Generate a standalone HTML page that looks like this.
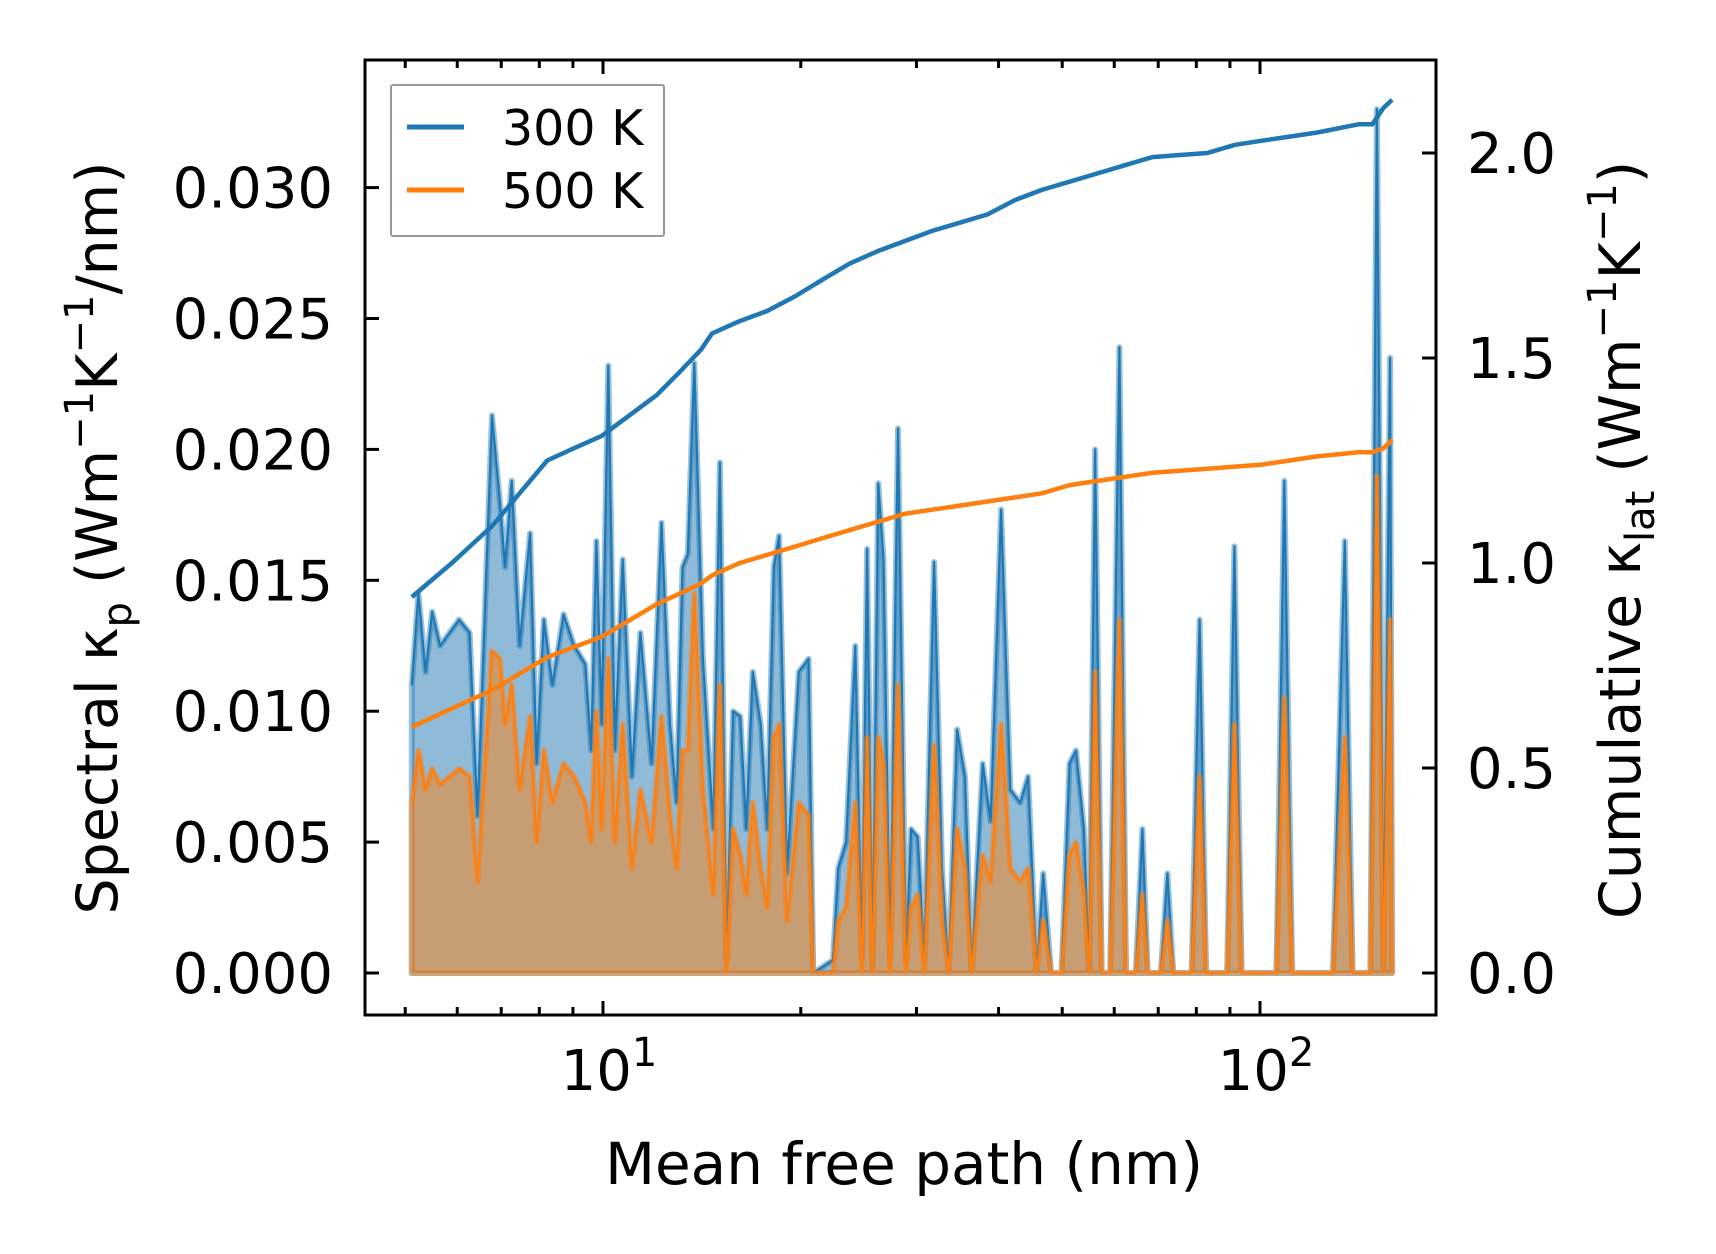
<!DOCTYPE html>
<html><head><meta charset="utf-8"><style>
html,body{margin:0;padding:0;background:#fff;}
svg{display:block;font-family:"DejaVu Sans","Liberation Sans",sans-serif;}
</style></head><body>
<svg id="chart" width="1716" height="1254" viewBox="0 0 1716 1254" xmlns="http://www.w3.org/2000/svg">
<g id="plot"></g>
</svg>
<script>
// log10 of mean free path (nm) for spectral samples
const logMfp = [0.709,0.719,0.730,0.740,0.752,0.781,0.797,0.809,0.831,0.843,0.851,0.861,0.873,0.889,0.899,0.910,0.923,0.940,0.956,0.973,0.982,0.990,0.998,1.008,1.018,1.030,1.044,1.057,1.074,1.089,1.102,1.112,1.121,1.129,1.139,1.152,1.168,1.178,1.188,1.198,1.209,1.218,1.228,1.240,1.250,1.260,1.268,1.280,1.298,1.313,1.320,1.350,1.358,1.370,1.384,1.394,1.402,1.410,1.419,1.427,1.437,1.449,1.461,1.469,1.479,1.489,1.504,1.516,1.526,1.539,1.551,1.561,1.578,1.590,1.606,1.620,1.635,1.647,1.660,1.670,1.682,1.698,1.710,1.720,1.732,1.740,1.749,1.759,1.772,1.786,1.796,1.811,1.821,1.829,1.849,1.859,1.868,1.896,1.908,1.918,1.950,1.961,1.972,2.025,2.037,2.049,2.111,2.129,2.141,2.168,2.178,2.188,2.198,2.201];
const spec300 = [0.011,0.0145,0.0115,0.0138,0.0125,0.0135,0.013,0.006,0.0213,0.018,0.0155,0.0188,0.0125,0.0168,0.008,0.0135,0.011,0.0137,0.0125,0.0118,0.0085,0.0165,0.0095,0.0232,0.0085,0.0158,0.0075,0.013,0.008,0.0172,0.0095,0.0065,0.0155,0.016,0.0233,0.012,0.0055,0.0195,0.0005,0.0100,0.0098,0.0055,0.0115,0.0095,0.0055,0.0155,0.0167,0.0038,0.0115,0.012,0.0,0.0005,0.004,0.005,0.0125,0.0005,0.0162,0.0,0.0187,0.0158,0.0005,0.0208,0.0005,0.0055,0.0052,0.0005,0.0157,0.004,0.0,0.0093,0.0075,0.0,0.008,0.0058,0.0177,0.007,0.0065,0.0075,0.0,0.0038,0.0,0.0,0.008,0.0085,0.0055,0.0,0.02,0.0,0.0,0.0239,0.0,0.0,0.0055,0.0,0.0,0.0038,0.0,0.0,0.0135,0.0,0.0,0.0163,0.0,0.0,0.0188,0.0,0.0,0.0165,0.0,0.0,0.033,0.0,0.0235,0.0];
const spec500 = [0.0065,0.0085,0.007,0.0078,0.0072,0.0078,0.0075,0.0035,0.0123,0.012,0.0095,0.011,0.007,0.0098,0.005,0.0085,0.0065,0.008,0.0075,0.0065,0.005,0.01,0.0055,0.012,0.005,0.0095,0.004,0.007,0.005,0.0098,0.006,0.004,0.0085,0.0085,0.0145,0.007,0.003,0.011,0.0,0.0055,0.0045,0.003,0.0065,0.004,0.0025,0.009,0.0095,0.002,0.0065,0.006,0.0,0.0,0.002,0.0025,0.0065,0.0,0.009,0.0,0.009,0.008,0.0,0.011,0.0,0.0025,0.003,0.0,0.0087,0.002,0.0,0.0055,0.004,0.0,0.0045,0.0035,0.0095,0.004,0.0035,0.004,0.0,0.002,0.0,0.0,0.0045,0.005,0.003,0.0,0.0115,0.0,0.0,0.0135,0.0,0.0,0.003,0.0,0.0,0.002,0.0,0.0,0.0075,0.0,0.0,0.0095,0.0,0.0,0.0105,0.0,0.0,0.009,0.0,0.0,0.019,0.0,0.0135,0.0];
// cumulative kappa
const cumLogMfp = [0.709,0.770,0.831,0.873,0.915,0.956,0.998,1.040,1.082,1.116,1.149,1.166,1.208,1.250,1.292,1.333,1.375,1.417,1.459,1.501,1.543,1.585,1.627,1.668,1.710,1.752,1.794,1.836,1.878,1.920,1.962,2.003,2.045,2.087,2.150,2.171,2.188,2.201];
const cum300 = [0.917,1.00,1.09,1.17,1.25,1.28,1.31,1.36,1.41,1.465,1.52,1.56,1.59,1.615,1.65,1.69,1.73,1.76,1.785,1.81,1.83,1.85,1.885,1.91,1.93,1.95,1.97,1.99,1.995,2.0,2.02,2.03,2.04,2.05,2.07,2.07,2.11,2.13];
const cum500 = [0.60,0.645,0.69,0.73,0.77,0.795,0.82,0.86,0.90,0.925,0.95,0.97,1.00,1.02,1.04,1.06,1.08,1.10,1.12,1.13,1.14,1.15,1.16,1.17,1.19,1.20,1.21,1.22,1.225,1.23,1.235,1.24,1.25,1.26,1.27,1.27,1.28,1.30];
const leftTicks = [0,0.005,0.01,0.015,0.02,0.025,0.03];
const leftTickLabels = ["0.000","0.005","0.010","0.015","0.020","0.025","0.030"];
const rightTicks = [0,0.5,1.0,1.5,2.0];
const rightTickLabels = ["0.0","0.5","1.0","1.5","2.0"];

const L=365,R=1436,T=60,B=1015;
const xs = l => 603 + (l-1)*657;
const yL = v => 973 - v/0.005*130.9;
const yR = v => 973 - v/0.5*205;
const NS="http://www.w3.org/2000/svg";
const svg=document.getElementById('chart');
function mk(tag,attrs,parent){const e=document.createElementNS(NS,tag);for(const k in attrs)e.setAttribute(k,attrs[k]);(parent||svg).appendChild(e);return e;}

function area(vals,fill,stroke,name){
  let d='M'+xs(logMfp[0])+','+yL(0);
  logMfp.forEach((l,i)=>{d+=' L'+xs(l).toFixed(1)+','+yL(vals[i]).toFixed(1);});
  d+=' L'+xs(logMfp[logMfp.length-1])+','+yL(0)+' Z';
  const a=mk('path',{d:d,fill:fill,stroke:'none'});
  
  
  const ln=mk('path',{d:d,fill:'none',stroke:stroke,'stroke-width':6,'stroke-opacity':0.45,'stroke-linejoin':'round'});
  
  
  let d2='M'+xs(logMfp[0])+','+yL(vals[0]);
  logMfp.forEach((l,i)=>{d2+=' L'+xs(l).toFixed(1)+','+yL(vals[i]).toFixed(1);});
  const l2=mk('path',{d:d2,fill:'none',stroke:stroke,'stroke-width':2.2,'stroke-linejoin':'round'});
  
  
}
area(spec300,'rgba(31,119,180,0.5)','#1f77b4','spectral-300k');
area(spec500,'rgba(255,127,14,0.5)','#ff7f0e','spectral-500k');

function cum(vals,color,name){
  let d='';
  cumLogMfp.forEach((l,i)=>{d+=(i?' L':'M')+xs(l).toFixed(1)+','+yR(vals[i]).toFixed(1);});
  const p=mk('path',{d:d,fill:'none',stroke:color,'stroke-width':4.5,'stroke-linejoin':'round'});
  
  
}
cum(cum300,'#1f77b4','cumulative-300k');
cum(cum500,'#ff7f0e','cumulative-500k');

const fr=mk('rect',{x:L,y:T,width:R-L,height:B-T,fill:'none',stroke:'#000','stroke-width':3});



leftTicks.forEach((v,i)=>{
  const y=yL(v);
  const t=mk('line',{x1:L,x2:L+14,y1:y,y2:y,stroke:'#000','stroke-width':3});
  
  
  const tx=mk('text',{x:333,y:y+20,'text-anchor':'end','font-size':56});
  tx.textContent=leftTickLabels[i];
  
  
});
rightTicks.forEach((v,i)=>{
  const y=yR(v);
  const t=mk('line',{x1:R,x2:R-14,y1:y,y2:y,stroke:'#000','stroke-width':3});
  
  
  const tx=mk('text',{x:1467,y:y+20,'text-anchor':'start','font-size':56});
  tx.textContent=rightTickLabels[i];
  
  
});
for(let dec=0;dec<=2;dec++){
  for(let m=1;m<=9;m++){
    const l=dec+Math.log10(m);
    const x=xs(l);
    if(x<L+2||x>R-2)continue;
    const len=m===1?14:8;
    [[B,B-len],[T,T+len]].forEach(p=>{
      const t=mk('line',{x1:x,x2:x,y1:p[0],y2:p[1],stroke:'#000','stroke-width':3});
      
      
    });
    if(m===1){
      const tx=mk('text',{x:x+6,y:1090,'text-anchor':'middle','font-size':56});
      tx.innerHTML='10<tspan dy="-24" font-size="40">'+dec+'</tspan>';
      
      
    }
  }
}

const xl=mk('text',{x:904,y:1184,'text-anchor':'middle','font-size':58});
xl.textContent='Mean free path (nm)';


const yl=mk('text',{x:0,y:0,'text-anchor':'middle','font-size':57,transform:'translate(117,538) rotate(-90)'});
yl.innerHTML='Spectral κ<tspan dy="14" font-size="40">p</tspan><tspan dy="-14"> (Wm</tspan><tspan dy="-24" font-size="40">−1</tspan><tspan dy="24">K</tspan><tspan dy="-24" font-size="40">−1</tspan><tspan dy="24">/nm)</tspan>';


const yr=mk('text',{x:0,y:0,'text-anchor':'middle','font-size':57,transform:'translate(1640,540) rotate(-90)'});
yr.innerHTML='Cumulative κ<tspan dy="14" font-size="40">lat</tspan><tspan dy="-14"> (Wm</tspan><tspan dy="-24" font-size="40">−1</tspan><tspan dy="24">K</tspan><tspan dy="-24" font-size="40">−1</tspan><tspan dy="24">)</tspan>';


const lg=mk('rect',{x:391,y:85,width:273,height:151,fill:'#fff',stroke:'#999','stroke-width':2,rx:2});


[['#1f77b4','300 K',127],['#ff7f0e','500 K',190]].forEach(e=>{
  const l=mk('line',{x1:407,x2:464,y1:e[2],y2:e[2],stroke:e[0],'stroke-width':5});
  
  
  const t=mk('text',{x:502,y:e[2]+18,'font-size':49});
  t.textContent=e[1];
  
  
});
</script>
</body></html>
